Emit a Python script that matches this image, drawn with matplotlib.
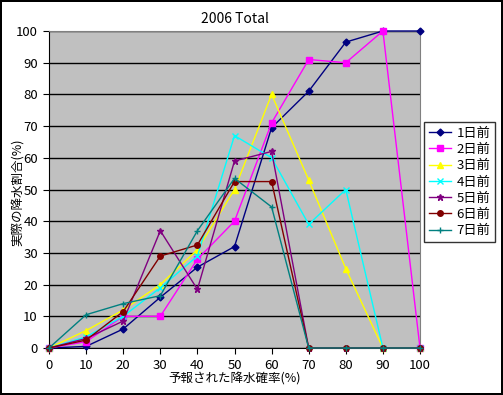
import matplotlib.pyplot as plt

plt.rcParams['font.family'] = ['Noto Sans CJK JP', 'DejaVu Sans']

x = [0, 10, 20, 30, 40, 50, 60, 70, 80, 90, 100]
labels = ['1日前', '2日前', '3日前', '4日前', '5日前', '6日前', '7日前']
d1 = [0, 0.5, 6, 16, 25.5, 32, 69.5, 81, 96.5, 100, 100]
d2 = [0, 2, 10, 10, 28, 40, 71, 91, 90, 100, 0]
d3 = [0, 5.5, 12, 20, 31, 50, 80, 53, 25, 0, 0]
d4 = [0, 3.5, 10, 19, 29, 67, 60, 39, 50, 0, 0]
d5 = [0, 3, 8.5, 37, 18.5, 59, 62, 0, 0, 0, 0]
d6 = [0, 2.5, 11.5, 29, 32.5, 52.5, 52.5, 0, 0, 0, 0]
d7 = [0, 10.5, 14, 16.5, 37, 53.5, 44.5, 0, 0, 0, 0]
series = [d1, d2, d3, d4, d5, d6, d7]

colors = ['#000080', '#FF00FF', '#FFFF00', '#00FFFF', '#800080', '#800000', '#008080']
markers = ['D', 's', '^', 'x', '*', 'o', '+']
msizes = [3.5, 4.5, 4.5, 4, 4.5, 4, 5]

fig = plt.figure(figsize=(5.03, 3.95), dpi=100)
fig.patch.set_edgecolor('black')
fig.patch.set_linewidth(1.5)
ax = fig.add_axes([49 / 503, 1 - 348 / 395, 371 / 503, 317 / 395])
ax.set_facecolor('#C0C0C0')

for ys, c, m, ms, lab in zip(series, colors, markers, msizes, labels):
    ax.plot(x, ys, color=c, marker=m, markersize=ms, linewidth=1, label=lab,
            markeredgewidth=1, clip_on=False, zorder=3)

ax.set_xlim(0, 100)
ax.set_ylim(0, 100)
ax.set_xticks(x)
ax.set_yticks(range(0, 101, 10))
ax.yaxis.grid(True, color='black', linewidth=1)
ax.set_axisbelow(True)
for s in ['top', 'right']:
    ax.spines[s].set_color('#808080')
for s in ['left', 'bottom']:
    ax.spines[s].set_color('black')
ax.tick_params(labelsize=9.5, length=4, pad=4, direction='out')
ax.set_title('2006 Total', fontsize=10, pad=6)
ax.set_xlabel('予報された降水確率(%)', fontsize=9, labelpad=0)
ax.set_ylabel('実際の降水割合(%)', fontsize=9)
ax.yaxis.set_label_coords(-0.066, 0.49)

leg = ax.legend(loc='upper left', bbox_to_anchor=(424 / 503, 1 - 122 / 395),
                bbox_transform=fig.transFigure, fontsize=9.5, frameon=True,
                fancybox=False, edgecolor='black', borderpad=0.35,
                labelspacing=0.25, handlelength=1.7, handletextpad=0.4,
                borderaxespad=0)
leg.get_frame().set_linewidth(1)

fig.savefig('out.png', dpi=100, edgecolor=fig.get_edgecolor())
